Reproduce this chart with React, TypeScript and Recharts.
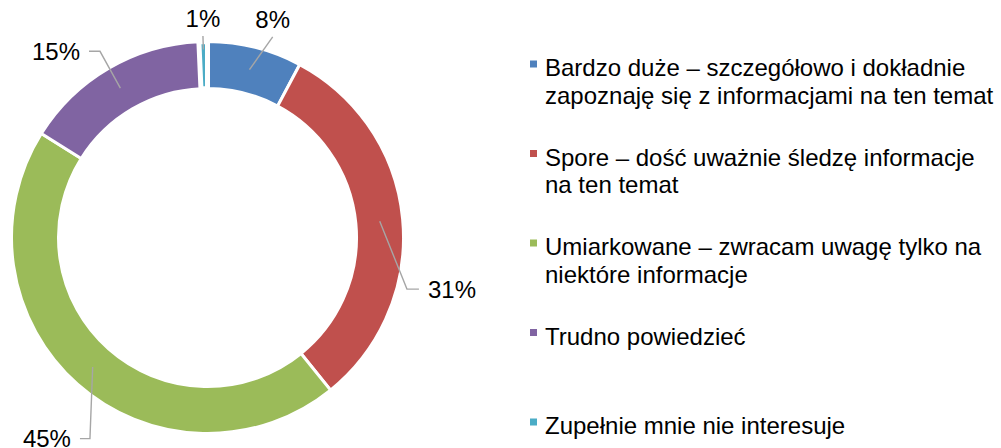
import React from "react";
import { PieChart, Pie, Cell, Legend } from "recharts";

// Kategorie odpowiedzi (\n = łamanie linii w legendzie)
const CATEGORIES = [
  "Bardzo duże – szczegółowo i dokładnie\nzapoznaję się z informacjami na ten temat",
  "Spore – dość uważnie śledzę informacje\nna ten temat",
  "Umiarkowane – zwracam uwagę tylko na\nniektóre informacje",
  "Trudno powiedzieć",
  "Zupełnie mnie nie interesuje",
];

// Udział procentowy
const VALUES = [7.8, 31.4, 44.7, 15.4, 0.7];

const COLORS = ["#4F81BD", "#C0504D", "#9BBB59", "#8064A2", "#4BACC6"];

const data = CATEGORIES.map((name, i) => ({ name, value: VALUES[i] }));

const FONT = "'Liberation Sans', Arial, sans-serif";
const CX = 207.5;
const CY = 237.5;
const INNER = 149;
const OUTER = 196;

// Ułożenie etykiet z linią odniesienia: start (promień), załamanie (promień, kąt od godz. 12), odcinek poziomy
const LABEL_LAYOUT = [
  { start: 173, r: 211, a: 18, stub: 0 },
  { start: 173, r: 206, a: 104.5, stub: 12 },
  { start: 173, r: 233, a: 210.3, stub: -10 },
  { start: 173, r: 215, a: 330, stub: -11 },
  { start: 188, r: 201.5, a: -1.3, stub: 0 },
];

const polar = (cx: number, cy: number, r: number, deg: number) => {
  const rad = (deg * Math.PI) / 180;
  return { x: cx + r * Math.sin(rad), y: cy - r * Math.cos(rad) };
};

const renderLabel = (props: any) => {
  const { cx, cy, midAngle, index, value } = props;
  const lay = LABEL_LAYOUT[index];
  // midAngle w recharts: przeciwnie do wskazówek od godz. 3 -> zamiana na kąt od godz. 12
  const a0 = 90 - midAngle;
  const s = polar(cx, cy, lay.start, a0);
  const e = polar(cx, cy, lay.r, lay.a);
  const text = `${Math.round(value)}%`;
  if (lay.stub === 0) {
    return (
      <g key={`lbl-${index}`}>
        <polyline points={`${s.x},${s.y} ${e.x},${e.y}`} fill="none" stroke="#A6A6A6" strokeWidth={1.4} />
        <text x={e.x} y={e.y - 9} textAnchor="middle" fontSize={24} fontFamily={FONT} fill="#000">
          {text}
        </text>
      </g>
    );
  }
  const endX = e.x + lay.stub;
  const right = lay.stub > 0;
  return (
    <g key={`lbl-${index}`}>
      <polyline
        points={`${s.x},${s.y} ${e.x},${e.y} ${endX},${e.y}`}
        fill="none"
        stroke="#A6A6A6"
        strokeWidth={1.4}
      />
      <text
        x={right ? endX + 9 : endX - 9}
        y={e.y + 8.5}
        textAnchor={right ? "start" : "end"}
        fontSize={24}
        fontFamily={FONT}
        fill="#000"
      >
        {text}
      </text>
    </g>
  );
};

const renderLegend = () => (
  <svg width={491} height={448} style={{ display: "block" }}>
    {CATEGORIES.map((name, i) => {
      const base = 76 + i * 89.5;
      const lines = name.split("\n");
      return (
        <g key={`leg-${i}`}>
          <rect x={20} y={base - 15.5} width={7} height={7} fill={COLORS[i]} />
          <text x={35} y={base} fontSize={24} fontFamily={FONT} fill="#000">
            {lines.map((ln, j) => (
              <tspan key={j} x={35} dy={j === 0 ? 0 : 27.5}>
                {ln}
              </tspan>
            ))}
          </text>
        </g>
      );
    })}
  </svg>
);

export default function App() {
  return (
    <div style={{ position: "absolute", left: 0, top: 0, width: 1001, height: 448, background: "#fff" }}>
      <PieChart width={1001} height={448} margin={{ top: 0, right: 0, bottom: 0, left: 0 }}>
        <Pie
          data={data}
          dataKey="value"
          nameKey="name"
          cx={CX}
          cy={CY}
          innerRadius={INNER}
          outerRadius={OUTER}
          startAngle={90}
          endAngle={-270}
          stroke="#fff"
          strokeWidth={3}
          label={renderLabel}
          labelLine={false}
          isAnimationActive={false}
        >
          {data.map((entry, index) => (
            <Cell
              key={`cell-${index}`}
              fill={COLORS[index]}
              strokeWidth={index === 4 ? 5 : 3}
            />
          ))}
        </Pie>
        <Legend
          layout="vertical"
          align="right"
          verticalAlign="top"
          content={renderLegend}
          wrapperStyle={{ left: 510, top: 0, width: 491, height: 448 }}
        />
      </PieChart>
    </div>
  );
}
